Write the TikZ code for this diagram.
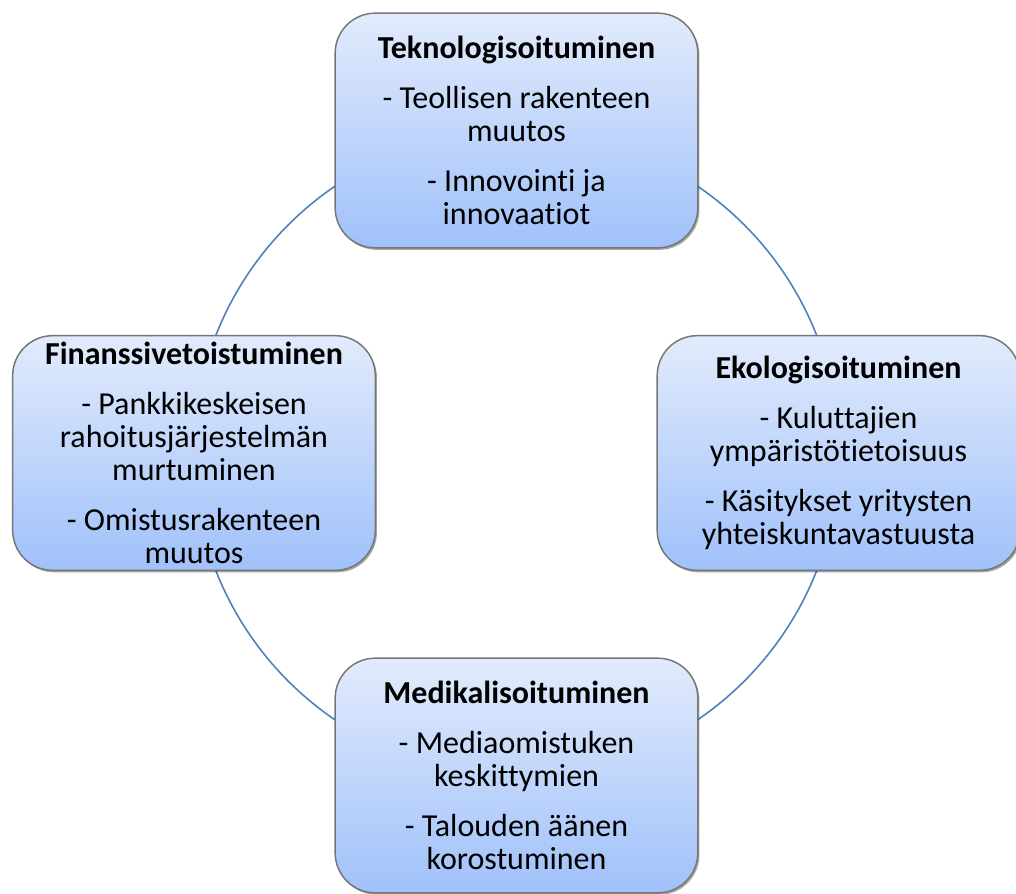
\documentclass[tikz,border=0pt]{standalone}
\usepackage{fontspec}
\setmainfont[Ligatures=NoCommon]{Carlito}
\usetikzlibrary{shadows}

\definecolor{ringblue}{RGB}{79,129,189}
\definecolor{boxtop}{RGB}{226,235,252}
\definecolor{boxbottom}{RGB}{160,193,250}
\definecolor{boxedge}{RGB}{118,118,118}

\tikzset{every picture/.style={line width=0.75pt}}
\tikzset{
  trendbox/.style={draw=boxedge, line width=1.1pt, rounded corners=30pt,
    top color=boxtop, bottom color=boxbottom,
    minimum width=272pt, minimum height=176pt, inner sep=0pt,
    align=center, font=\fontsize{24}{24.75}\selectfont,
    drop shadow={shadow xshift=1.2pt, shadow yshift=-1.5pt, opacity=0.35, fill=black}},
}
\newcommand{\paragap}{\\[13pt]}

\begin{document}
\begin{tikzpicture}[x=0.75pt,y=0.75pt,yscale=-1,xscale=1]
\useasboundingbox (0,0) rectangle (1016,893);

%Circle [id:ring]
\coordinate (hub) at (516.25,453);
\draw [color=ringblue, line width=1.2pt] (hub) circle (241.9pt);

% Rounded Rect -- top
\node [trendbox] (tekno) at (516.5,130.5) {\textbf{Teknologisoituminen}\paragap
  - Teollisen rakenteen\\ muutos\paragap - Innovointi ja\\ innovaatiot};
% Rounded Rect -- left
\node [trendbox] (finanssi) at (194,453) {\textbf{Finanssivetoistuminen}\paragap
  - Pankkikeskeisen\\ rahoitusjärjestelmän\\ murtuminen\paragap - Omistusrakenteen\\ muutos};
% Rounded Rect -- right
\node [trendbox] (ekologi) at (838.5,453) {\textbf{Ekologisoituminen}\paragap
  - Kuluttajien\\ ympäristötietoisuus\paragap - Käsitykset yritysten\\ yhteiskuntavastuusta};
% Rounded Rect -- bottom
\node [trendbox] (medikal) at (516.5,775.5) {\textbf{Medikalisoituminen}\paragap
  - Mediaomistuken\\ keskittymien\paragap - Talouden äänen\\ korostuminen};

\end{tikzpicture}
\end{document}
